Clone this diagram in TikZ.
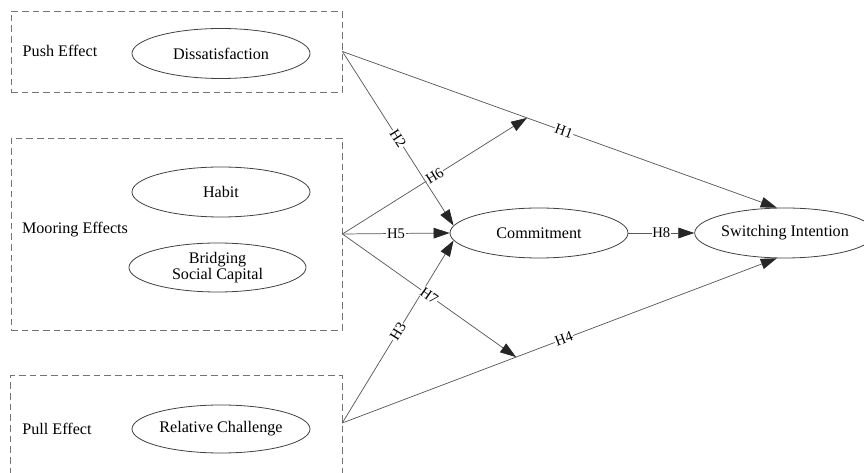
\documentclass[tikz,border=0pt]{standalone}
\usepackage{fontspec}
\setmainfont{Liberation Serif}
\usetikzlibrary{arrows.meta,shapes.geometric}

\tikzset{
  cluster/.style = {draw=black!55, dash pattern=on 5pt off 3pt, line width=0.6pt},
  clusterbox/.style = {minimum width=248.25pt, inner sep=0pt},
  effect/.style = {font=\fontsize{12.1}{14}\selectfont},
  construct/.style = {ellipse, draw=black!75, line width=0.6pt, minimum width=133.5pt,
    minimum height=37.5pt, inner sep=0pt, align=center, font=\fontsize{12.1}{12.5}\selectfont},
  link/.style = {draw=black!65, line width=0.55pt, -{Triangle[length=12pt,width=8pt,color=black!85]}},
  hyp/.style = {font=\fontsize{11}{13}\selectfont, fill=white, inner sep=0.6pt, sloped}
}

\begin{document}
\begin{tikzpicture}[x=0.75pt, y=-0.75pt]
  \clip (0,0) rectangle (864,473);

  % clusters
  \node[clusterbox, cluster, minimum height=60.75pt] (push) at (176.5, 51.5) {};
  \node[clusterbox, cluster, minimum height=144pt] (mooring) at (176.5, 234) {};
  \node[clusterbox, minimum height=70.5pt] (pull) at (176.5, 423) {};
  \draw[cluster] ([yshift=-3pt]pull.south west) |- (pull.north east) -- ([yshift=-3pt]pull.south east);

  \node[effect] (pushlbl) at (60, 51) {Push Effect};
  \node[effect] (moorlbl) at (75, 230) {Mooring Effects};
  \node[effect] (pulllbl) at (57, 429) {Pull Effect};

  % constructs
  \node[construct] (dissat) at (221, 53.5) {Dissatisfaction};
  \node[construct] (habit) at (221, 192) {Habit};
  \node[construct, minimum width=132.75pt, minimum height=36.75pt] (bridge) at (217.5, 267.5) {Bridging\\Social Capital};
  \node[construct, minimum height=36pt] (relchal) at (221, 429) {Relative Challenge};
  \node[construct] (comm) at (539, 233) {Commitment};
  \node[construct] (switch) at (785, 233) {Switching Intention};

  % hypotheses
  \draw[link] (push.east) -- node[hyp, pos=0.51] {H1} coordinate[pos=0.425] (h1pt) (switch.108);
  \draw[link] (push.east) -- node[hyp] {H2} (comm.175);
  \draw[link] (pull.east) -- node[hyp] {H3} (comm.185);
  \draw[link] (pull.east) -- node[hyp, pos=0.51] {H4} coordinate[pos=0.4] (h4pt) (switch.252);
  \draw[link] (mooring.east) -- node[hyp] {H5} (comm.west);
  \draw[link] (mooring.east) -- node[hyp] {H6} (h1pt);
  \draw[link] (mooring.east) -- node[hyp] {H7} (h4pt);
  \draw[link] (comm) -- node[hyp] {H8} (switch);
\end{tikzpicture}
\end{document}
